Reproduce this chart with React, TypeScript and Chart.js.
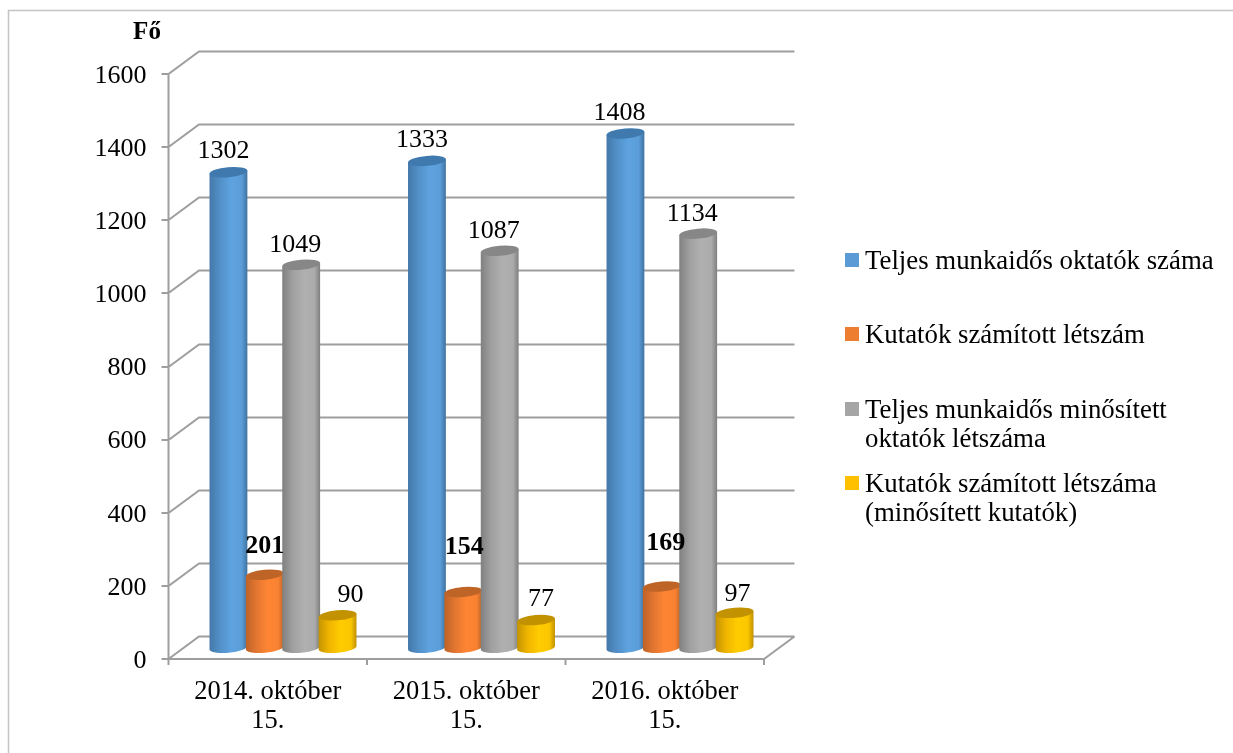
import React, { useEffect, useRef } from "react";
import { Chart, registerables } from "chart.js";

Chart.register(...registerables);

const categories = [["2014. október", "15."], ["2015. október", "15."], ["2016. október", "15."]];
const seriesNames = [
  "Teljes munkaidős oktatók száma",
  "Kutatók számított létszám",
  "Teljes munkaidős minősített oktatók létszáma",
  "Kutatók számított létszáma (minősített kutatók)",
];
const teljesOktatok = [1302, 1333, 1408];
const kutatok = [201, 154, 169];
const minositettOktatok = [1049, 1087, 1134];
const minositettKutatok = [90, 77, 97];
const yTitle = "Fő";
const legendLines = [
  ["Teljes munkaidős oktatók száma"],
  ["Kutatók számított létszám"],
  ["Teljes munkaidős minősített", "oktatók létszáma"],
  ["Kutatók számított létszáma", "(minősített kutatók)"],
];

const FONT = '"Liberation Serif", "Times New Roman", serif';
const GRID = "#9e9e9e";
const DEPTH_X = 30.5;
const DEPTH_Y = 22.5;
const TILT = (-5 * Math.PI) / 180;
const RY = 5;

const palette = [
  { swatch: "#5B9BD5", top: "#3F79AE", stops: ["#4478A8", "#5290C8", "#5EA3E0", "#5A9DD8", "#3F729F"] },
  { swatch: "#ED7D31", top: "#BE6427", stops: ["#BE6227", "#E27631", "#FF8533", "#F88232", "#BD6227"] },
  { swatch: "#A5A5A5", top: "#878787", stops: ["#808080", "#A0A0A0", "#B0B0B0", "#ABABAB", "#7E7E7E"] },
  { swatch: "#FFC000", top: "#C29200", stops: ["#C49400", "#F0B500", "#FFCC00", "#FAC600", "#C09000"] },
];

// nudges of the value labels relative to the bar top: [dx, dy] per series, per category
const labelNudge = [
  [[-5, -21], [-5, -20], [-6, -20]],
  [[0, -28], [1, -44], [4, -43]],
  [[-6, -19], [-6, -19], [-6, -19]],
  [[13, -20], [5, -20], [3, -18]],
];
const boldSeries = 1;

// legend row centres on the page
const legendRows = [260, 334, 409, 483];

const scenery = {
  id: "scenery",
  beforeDatasetsDraw(chart: any) {
    const { ctx, scales, chartArea } = chart;
    const y = scales.y;
    const x = scales.x;
    const { left, right, bottom } = chartArea;
    ctx.save();

    // outer frame
    ctx.strokeStyle = "#c4c4c4";
    ctx.lineWidth = 1.5;
    ctx.beginPath();
    ctx.moveTo(8.5, chart.height);
    ctx.lineTo(8.5, 10.5);
    ctx.lineTo(chart.width, 10.5);
    ctx.stroke();

    // walls
    ctx.strokeStyle = GRID;
    ctx.lineWidth = 2;
    ctx.beginPath();
    y.ticks.forEach((t: any) => {
      const py = Math.round(y.getPixelForValue(t.value));
      ctx.moveTo(left - 7, py);
      ctx.lineTo(left, py);
      ctx.lineTo(left + DEPTH_X, py - DEPTH_Y);
      ctx.lineTo(right + DEPTH_X, py - DEPTH_Y);
    });
    ctx.moveTo(left, y.getPixelForValue(y.max));
    ctx.lineTo(left, bottom + 6);
    ctx.moveTo(left, bottom);
    ctx.lineTo(right, bottom);
    ctx.lineTo(right + DEPTH_X, bottom - DEPTH_Y);
    for (let i = 0; i < categories.length; i++) {
      const edge = x.getPixelForValue(i) + (x.getPixelForValue(1) - x.getPixelForValue(0)) / 2;
      ctx.moveTo(edge, bottom);
      ctx.lineTo(edge, bottom + 6);
    }
    ctx.stroke();

    // cylinders
    const cosT = Math.cos(TILT);
    const sinT = Math.sin(TILT);
    chart.data.datasets.forEach((ds: any, di: number) => {
      const meta = chart.getDatasetMeta(di);
      const p = palette[di];
      meta.data.forEach((bar: any) => {
        const cx = bar.x + DEPTH_X / 2;
        const rx = bar.width / 2 + 0.8;
        const topY = bar.y - DEPTH_Y / 2 + 0.5;
        const baseY = bar.base - DEPTH_Y / 2;
        const ex = rx * cosT;
        const ey = rx * sinT;
        const grad = ctx.createLinearGradient(cx - rx, 0, cx + rx, 0);
        [0, 0.28, 0.58, 0.85, 1].forEach((o, k) => grad.addColorStop(o, p.stops[k]));
        ctx.fillStyle = grad;
        ctx.beginPath();
        ctx.moveTo(cx - ex, topY - ey);
        ctx.lineTo(cx - ex, baseY - ey);
        ctx.ellipse(cx, baseY, rx, RY, TILT, Math.PI, 0, true);
        ctx.lineTo(cx + ex, topY + ey);
        ctx.closePath();
        ctx.fill();
        ctx.fillStyle = p.top;
        ctx.beginPath();
        ctx.ellipse(cx, topY, rx, RY, TILT, 0, Math.PI * 2);
        ctx.fill();
      });
    });

    // value labels
    ctx.textAlign = "center";
    ctx.textBaseline = "middle";
    ctx.fillStyle = "#000";
    chart.data.datasets.forEach((ds: any, di: number) => {
      ctx.font = `${di === boldSeries ? "bold " : ""}26px ${FONT}`;
      chart.getDatasetMeta(di).data.forEach((bar: any, ci: number) => {
        const [dx, dy] = labelNudge[di][ci];
        ctx.fillText(String(ds.data[ci]), bar.x + DEPTH_X / 2 + dx, bar.y - DEPTH_Y / 2 + dy);
      });
    });

    // unit title
    ctx.font = `bold 25px ${FONT}`;
    ctx.fillText(yTitle, 147, 33);

    // legend
    ctx.textAlign = "left";
    ctx.font = `26.8px ${FONT}`;
    legendLines.forEach((lines, i) => {
      const cy = legendRows[i];
      ctx.fillStyle = palette[i].swatch;
      ctx.fillRect(845, cy - 7, 14, 14);
      ctx.fillStyle = "#000";
      lines.forEach((line, k) => ctx.fillText(line, 865, cy + 1.5 + k * 29));
    });

    ctx.restore();
    return false;
  },
};

export default function App() {
  const ref = useRef<HTMLCanvasElement>(null);
  useEffect(() => {
    const series = [teljesOktatok, kutatok, minositettOktatok, minositettKutatok];
    const chart = new Chart(ref.current as HTMLCanvasElement, {
      type: "bar",
      data: {
        labels: categories as any,
        datasets: series.map((data, i) => ({
          label: seriesNames[i],
          data,
          backgroundColor: palette[i].swatch,
          categoryPercentage: 0.733,
          barPercentage: 1,
        })),
      },
      plugins: [scenery],
      options: {
        responsive: false,
        animation: false,
        layout: { padding: { left: 0, right: 469, top: 74, bottom: 0 } },
        plugins: { legend: { display: false }, tooltip: { enabled: false }, title: { display: false } },
        scales: {
          x: {
            grid: { display: false, drawTicks: false },
            border: { display: false },
            afterFit: (s: any) => { s.height = 94; },
            ticks: { color: "#000", padding: 18, maxRotation: 0, autoSkip: false, font: { family: FONT, size: 26.5, lineHeight: 1.115 } },
          },
          y: {
            min: 0,
            max: 1600,
            grid: { display: false, drawTicks: false },
            border: { display: false },
            afterFit: (s: any) => { s.width = 168.5; },
            ticks: {
              stepSize: 200,
              color: "#000",
              padding: 22,
              labelOffset: 2,
              callback: (v: any) => String(v),
              font: { family: FONT, size: 26 },
            },
          },
        },
      },
    } as any);
    return () => chart.destroy();
  }, []);
  return (
    <canvas
      ref={ref}
      width={1233}
      height={753}
      style={{ position: "absolute", left: 0, top: 0, width: 1233, height: 753, display: "block" }}
    />
  );
}
